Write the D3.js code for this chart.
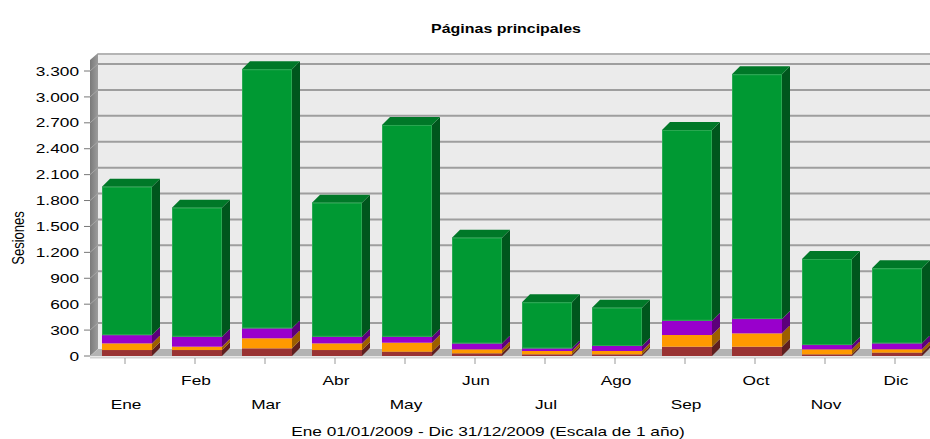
<!DOCTYPE html>
<meta charset="utf-8">
<script src="https://d3js.org/d3.v7.min.js"></script>
<style>
  body { margin: 0; background: #fff; }
  text { font-family: "Liberation Sans", Arial, sans-serif; fill: #000; }
</style>
<body>
<svg id="chart" width="930" height="439"></svg>
<script>
// monthly sessions, stacked bottom to top
var months = ["Ene", "Feb", "Mar", "Abr", "May", "Jun", "Jul", "Ago", "Sep", "Oct", "Nov", "Dic"];
var serieRoja    = [69, 69, 89, 69, 50, 31, 19, 19, 108, 108, 19, 39];
var serieNaranja = [77, 39, 116, 77, 104, 46, 39, 39, 135, 154, 58, 39];
var serieMorada  = [96, 116, 116, 77, 69, 69, 31, 58, 166, 166, 50, 69];
var serieVerde   = [1718, 1493, 2999, 1552, 2452, 1224, 533, 443, 2208, 2834, 996, 868];
var yTicks = [0, 300, 600, 900, 1200, 1500, 1800, 2100, 2400, 2700, 3000, 3300];

var svg = d3.select("#chart");
var sx = 1.33; // the original picture is stretched sideways

var x = d3.scaleBand().domain(months).range([90, 930]);
var y = d3.scaleLinear().domain([0, 3300]).range([356, 71]);

var fmt = d3.formatLocale({decimal: ",", thousands: ".", grouping: [3], currency: ["", ""]}).format(",");

// 3d depth
var dx = 8, dy = 7;
var left = 90, right = 930, wallTop = 53;

function label(s, px, py, anchor, size, weight) {
  return svg.append("text")
    .attr("transform", "translate(" + px + "," + py + ") scale(" + sx + ",1)")
    .attr("text-anchor", anchor)
    .style("font-size", size + "px")
    .style("font-weight", weight || "normal")
    .text(s);
}

// walls
var defs = svg.append("defs");
var grad = defs.append("linearGradient").attr("id", "wallGrad");
grad.append("stop").attr("offset", "0%").attr("stop-color", "#7a7a7a");
grad.append("stop").attr("offset", "100%").attr("stop-color", "#9c9c9c");

svg.append("rect")
  .attr("x", left + dx).attr("y", wallTop)
  .attr("width", right - left - dx).attr("height", y(0) - dy - wallTop)
  .attr("fill", "#ebebeb");

svg.append("polygon")
  .attr("points", [[left, y(0)], [left, wallTop + dy], [left + dx, wallTop], [left + dx, y(0) - dy]].join(" "))
  .attr("fill", "url(#wallGrad)");

svg.append("line")
  .attr("x1", left + dx).attr("x2", right)
  .attr("y1", wallTop + 1).attr("y2", wallTop + 1)
  .attr("stroke", "#b4b4b4").attr("stroke-width", 2);

// gridlines on back and side wall
yTicks.forEach(function(t) {
  if (t === 0) return;
  svg.append("line")
    .attr("x1", left + dx).attr("x2", right)
    .attr("y1", y(t) - dy).attr("y2", y(t) - dy)
    .attr("stroke", "#9e9e9e").attr("stroke-width", 2);
  svg.append("line")
    .attr("x1", left).attr("x2", left + dx)
    .attr("y1", y(t)).attr("y2", y(t) - dy)
    .attr("stroke", "#a6a6a6").attr("stroke-width", 1);
});

// floor
svg.append("polygon")
  .attr("points", [[left, y(0)], [left + dx, y(0) - dy], [right, y(0) - dy], [right, y(0)]].join(" "))
  .attr("fill", "#b3b3b3");
svg.append("line")
  .attr("x1", left).attr("x2", right)
  .attr("y1", y(0) + 1.5).attr("y2", y(0) + 1.5)
  .attr("stroke", "#d2d2d2").attr("stroke-width", 2);

// y axis ticks + labels
yTicks.forEach(function(t) {
  svg.append("line")
    .attr("x1", left - 6).attr("x2", left)
    .attr("y1", y(t)).attr("y2", y(t))
    .attr("stroke", "#777");
  label(fmt(t), 79, y(t) + 4.6, "end", 13);
});

// x axis ticks + labels (alternating rows)
months.forEach(function(m, i) {
  var cx = x(m) + x.bandwidth() / 2;
  svg.append("line")
    .attr("x1", cx).attr("x2", cx)
    .attr("y1", y(0) + 2).attr("y2", y(0) + 8)
    .attr("stroke", "#999");
  label(m, cx + 1, i % 2 === 0 ? 409 : 385, "middle", 13);
});

// stacked 3d bars
var colors = [
  {front: "#993333", side: "#5e1f1f", top: "#7a2929"},
  {front: "#ff9900", side: "#9c5e00", top: "#cc7a00"},
  {front: "#9900cc", side: "#5c007a", top: "#7a00a3"},
  {front: "#009933", side: "#00561d", top: "#007828"}
];
var table = months.map(function(m, i) {
  return {mes: m, a: serieRoja[i], b: serieNaranja[i], c: serieMorada[i], d: serieVerde[i]};
});
var stack = d3.stack().keys(["a", "b", "c", "d"])(table);

var bw = Math.round(x.bandwidth() * 0.715);
var bd = 8; // bar depth

months.forEach(function(m, i) {
  var x0 = x(m) + 12;
  var g = svg.append("g");
  stack.forEach(function(layer, k) {
    var y0 = y(layer[i][0]), y1 = y(layer[i][1]);
    var c = colors[k];
    g.append("rect")
      .attr("x", x0).attr("y", y1)
      .attr("width", bw).attr("height", y0 - y1)
      .attr("fill", c.front);
    g.append("polygon")
      .attr("points", [[x0 + bw, y0], [x0 + bw + bd, y0 - bd], [x0 + bw + bd, y1 - bd], [x0 + bw, y1]].join(" "))
      .attr("fill", c.side);
    if (k === stack.length - 1) {
      g.append("polygon")
        .attr("points", [[x0, y1], [x0 + bd, y1 - bd], [x0 + bw + bd, y1 - bd], [x0 + bw, y1]].join(" "))
        .attr("fill", c.top);
      g.append("rect")
        .attr("x", x0 + 0.5).attr("y", y1 + 0.5)
        .attr("width", bw - 1).attr("height", y(layer[i][0]) - y1 - 1)
        .attr("fill", "none").attr("stroke", "#2aa852").attr("stroke-width", 1);
    }
  });
});

// titles
label("Páginas principales", 506, 33, "middle", 12, "bold");
label("Ene 01/01/2009 - Dic 31/12/2009 (Escala de 1 año)", 488, 436, "middle", 13);
svg.append("text")
  .attr("transform", "translate(24,238) scale(" + sx + ",1) rotate(-90)")
  .attr("text-anchor", "middle")
  .style("font-size", "13px")
  .text("Sesiones");
</script>
</body>
</html>
